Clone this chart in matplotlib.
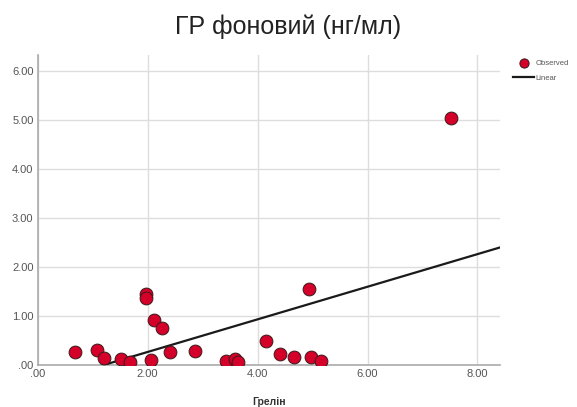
import matplotlib.pyplot as plt
import numpy as np

plt.rcParams['font.family'] = ['Liberation Sans', 'DejaVu Sans']

# observed values: ghrelin (x) vs baseline GH (y)
ghrelin = [0.67, 1.08, 1.21, 1.51, 1.68, 1.97, 1.97, 2.07, 2.11, 2.27,
           2.41, 2.86, 3.42, 3.59, 3.64, 4.16, 4.41, 4.66, 4.93, 4.98,
           5.15, 7.51]
gh_base = [0.25, 0.29, 0.14, 0.12, 0.05, 1.44, 1.36, 0.10, 0.91, 0.74,
           0.26, 0.27, 0.07, 0.12, 0.05, 0.49, 0.22, 0.15, 1.55, 0.15,
           0.08, 5.03]

# linear fit coefficients
fit_intercept = -0.41
fit_slope = 0.333

x_ticks = [0, 2, 4, 6, 8]
y_ticks = [0, 1, 2, 3, 4, 5, 6]

fig = plt.figure(figsize=(5.77, 4.07), dpi=100)
ax = fig.add_axes([0.0653, 0.1044, 0.8013, 0.7605])

xs = np.array([0, 8.41])
line, = ax.plot(xs, fit_intercept + fit_slope * xs, color='#1a1a1a', lw=1.6,
                zorder=3, label='Linear')
pts = ax.scatter(ghrelin, gh_base, s=85, color='#d4002a', edgecolor='#3a1a1a',
                 linewidth=0.7, zorder=4, label='Observed')

ax.set_xlim(0, 8.41)
ax.set_ylim(0, 6.32)
ax.set_xticks(x_ticks)
ax.set_yticks(y_ticks)
fmt = lambda v: ('%.2f' % v).lstrip('0') if v == 0 else '%.2f' % v
ax.set_xticklabels([fmt(v) for v in x_ticks])
ax.set_yticklabels([fmt(v) for v in y_ticks])
ax.tick_params(length=0, labelsize=8, labelcolor='#555555', pad=3)
ax.grid(True, color='#dddddd', lw=1)
ax.set_axisbelow(True)
for s in ['top', 'right']:
    ax.spines[s].set_visible(False)
for s in ['left', 'bottom']:
    ax.spines[s].set_color('#aaaaaa')
    ax.spines[s].set_linewidth(1.2)

ax.set_xlabel('Грелін', fontsize=7.5, fontweight='bold', color='#333333',
              labelpad=13)
fig.suptitle('ГР фоновий (нг/мл)', fontsize=18, color='#222222', y=0.965)

ax.legend(handles=[pts, line], loc='upper left', bbox_to_anchor=(1.022, 0.995),
          frameon=False, fontsize=5.5, labelcolor='#555555', markerscale=0.72,
          handlelength=2.7, handletextpad=0.25, labelspacing=1.0,
          borderaxespad=0)

fig.savefig('out.png', dpi=100)
